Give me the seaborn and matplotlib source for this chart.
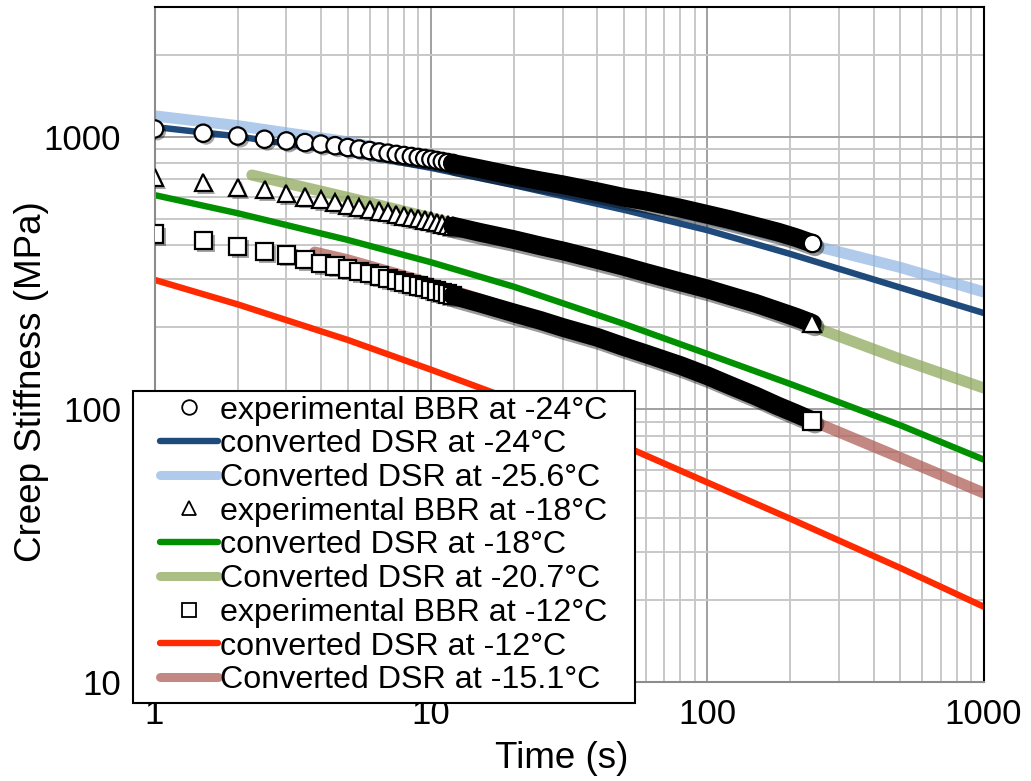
import numpy as np
import pandas as pd
import matplotlib
matplotlib.use("Agg")
import matplotlib.pyplot as plt
import matplotlib.patheffects as pe
from matplotlib.lines import Line2D
from matplotlib.patches import Rectangle
from matplotlib.ticker import FuncFormatter, NullFormatter
import seaborn as sns

# BBR test times (s) and measured creep stiffness (MPa)
bbr_time = [1, 1.5, 2, 2.5, 3, 3.5, 4, 4.5, 5, 5.5, 6, 6.5, 7, 7.5, 8, 8.5, 9, 9.5,
            10, 10.5, 11, 11.5, 12, 15, 20, 25, 30, 40, 50, 60, 80, 100, 120, 150,
            180, 210, 240]
bbr_m24 = [1070, 1032, 1008, 981, 967, 954, 942, 929, 915, 903, 892, 881, 872, 863,
           855, 848, 841, 834, 828, 820, 813, 806, 800, 765, 720, 690, 668, 630, 600,
           582, 548, 520, 498, 470, 448, 427, 407]
bbr_m18 = [711, 680, 654, 640, 620, 603, 590, 575, 562, 552, 543, 535, 527, 520, 513,
           507, 501, 496, 491, 485, 480, 475, 471, 447, 420, 398, 382, 355, 335, 318,
           294, 277, 262, 245, 230, 218, 207]
bbr_m12 = [440, 416, 397, 380, 369, 356, 344, 336, 328, 321, 315, 309, 303, 298, 293,
           288, 284, 280, 276, 272, 269, 265, 262, 246, 226, 212, 200, 184, 170, 160,
           145, 133, 123, 112, 103, 96.5, 91]

# DSR converted master curves
dsr_time = [1, 2, 5, 10, 20, 50, 100, 200, 500, 1000]
dsr_m24 = [1088, 1005, 874, 770, 665, 540, 455, 372, 280, 226]
dsr_m256 = [1195, 1100, 960, 835, 730, 590, 500, 420, 332, 270]
dsr_m18 = [612, 525, 419, 347, 282, 206, 160, 124, 87.5, 65.5]
dsr_m12 = [299, 243, 180, 140, 108, 73.5, 54, 39.7, 26.2, 18.9]
dsr_m207_time = [2.25, 5, 10, 20, 50, 100, 200, 500, 1000]
dsr_m207 = [725, 600, 505, 420, 330, 270, 216, 153, 120]
dsr_m151_time = [3.8, 5, 10, 20, 50, 100, 200, 500, 1000]
dsr_m151 = [378, 354, 290, 232, 170, 129, 98, 66.5, 49.4]

labels = ['experimental BBR at -24°C', 'converted DSR at -24°C', 'Converted DSR at -25.6°C',
          'experimental BBR at -18°C', 'converted DSR at -18°C', 'Converted DSR at -20.7°C',
          'experimental BBR at -12°C', 'converted DSR at -12°C', 'Converted DSR at -15.1°C']

sns.set_style('white')
plt.rcParams['font.family'] = ['Liberation Sans', 'DejaVu Sans']
plt.rcParams['text.color'] = 'black'
plt.rcParams['axes.labelcolor'] = 'black'
plt.rcParams['xtick.color'] = 'black'
plt.rcParams['ytick.color'] = 'black'

fig = plt.figure(figsize=(10.31, 7.81), dpi=100)
ax = fig.add_axes([0.1499, 0.1268, 0.8041, 0.8643])
ax.set_xscale('log')
ax.set_yscale('log')

# converted DSR curves (thin = same temp, thick pale = shifted temp)
thin_lw = 4.6
thick_lw = 8
lines = [
    (dsr_time, dsr_m256, '#8db4e2', thick_lw, 0.7),
    (dsr_time, dsr_m24, '#1f4a7c', thin_lw, 1.0),
    (dsr_m207_time, dsr_m207, '#8fa95e', thick_lw, 0.75),
    (dsr_time, dsr_m18, '#009000', thin_lw, 1.0),
    (dsr_m151_time, dsr_m151, '#b0605a', thick_lw, 0.75),
    (dsr_time, dsr_m12, '#ff2a00', thin_lw, 1.0),
]
for xs, ys, c, lw, a in lines:
    sns.lineplot(x=xs, y=ys, ax=ax, color=c, lw=lw, alpha=a, solid_capstyle='round',
                 estimator=None, zorder=2)

# BBR markers: the dense tail of overlapping markers shows up as a black band
shadow_m = [pe.SimplePatchShadow(offset=(2, -2), shadow_rgbFace='black', alpha=0.35), pe.Normal()]
shadow_l = [pe.SimpleLineShadow(offset=(2, -2.5), shadow_color='black', alpha=0.4), pe.Normal()]
t = np.array(bbr_time)
msize = 12.5
for ys, mk in [(bbr_m24, 'o'), (bbr_m18, '^'), (bbr_m12, 's')]:
    ys = np.array(ys)
    early = t <= 12
    band = t >= 12
    ax.plot(t[early], ys[early], ls='none', marker=mk, ms=msize, mfc='white', mec='black',
            mew=1.6, zorder=3, path_effects=shadow_m)
    sns.lineplot(x=t[band], y=ys[band], ax=ax, color='black', lw=13.5, solid_capstyle='round',
                 estimator=None, zorder=3, path_effects=shadow_l)
    ax.plot(t[-1:], ys[-1:], ls='none', marker=mk, ms=msize, mfc='white', mec='black',
            mew=1.6, zorder=4)

ax.set_xlim(1, 1000)
ax.set_ylim(10, 3000)

fmt = FuncFormatter(lambda v, p: f"{v:g}")
ax.xaxis.set_major_formatter(fmt)
ax.yaxis.set_major_formatter(fmt)
ax.xaxis.set_minor_formatter(NullFormatter())
ax.yaxis.set_minor_formatter(NullFormatter())

ax.set_axisbelow(True)
ax.grid(True, which='minor', color='#c8c8c8', lw=1.4)
ax.grid(True, which='major', color='#a0a0a0', lw=1.4)

for s in ['left', 'bottom']:
    ax.spines[s].set_color('#8c8c8c')
    ax.spines[s].set_linewidth(1.5)
for s in ['top', 'right']:
    ax.spines[s].set_color('black')
    ax.spines[s].set_linewidth(1.5)

ax.tick_params(axis='x', which='major', direction='out', length=8.5, width=1.2,
               color='#8c8c8c', labelcolor='black', labelsize=25, pad=3)
ax.tick_params(axis='y', which='major', direction='out', length=7, width=1.2,
               color='#8c8c8c', labelcolor='black', labelsize=25, pad=17)
ax.tick_params(which='minor', direction='in', length=6, width=1, color='#a0a0a0')

ax.set_xlabel('Time (s)', fontsize=26.5, color='black')
ax.set_ylabel('Creep Stiffness (MPa)', fontsize=26.5, color='black')
ax.xaxis.set_label_coords(0.4916, -0.088)
ax.yaxis.set_label_coords(-0.127, 0.445)

# legend box drawn separately so the entries can sit inset like the original
fig.add_artist(Rectangle((0.129, 0.0999), 0.4869, 0.3995, transform=fig.transFigure,
                         facecolor='white', edgecolor='black', lw=1.5, zorder=4))
handles = [
    Line2D([], [], ls='none', marker='o', ms=10.5, mfc='white', mec='black', mew=1.3),
    Line2D([], [], color='#1f4a7c', lw=4.6, solid_capstyle='round'),
    Line2D([], [], color='#8db4e2', lw=6.5, alpha=0.7, solid_capstyle='round'),
    Line2D([], [], ls='none', marker='^', ms=10.5, mfc='white', mec='black', mew=1.3),
    Line2D([], [], color='#009000', lw=4.6, solid_capstyle='round'),
    Line2D([], [], color='#8fa95e', lw=6.5, alpha=0.75, solid_capstyle='round'),
    Line2D([], [], ls='none', marker='s', ms=10.5, mfc='white', mec='black', mew=1.3),
    Line2D([], [], color='#ff2a00', lw=4.6, solid_capstyle='round'),
    Line2D([], [], color='#b0605a', lw=6.5, alpha=0.75, solid_capstyle='round'),
]
fig.legend(handles=handles, labels=labels, loc='upper left', bbox_to_anchor=(0.1552, 0.4935),
           frameon=False, fontsize=23.2, handlelength=1.8, handletextpad=0.05,
           labelspacing=0.115, borderpad=0, borderaxespad=0)

fig.savefig('out.png', dpi=100)
